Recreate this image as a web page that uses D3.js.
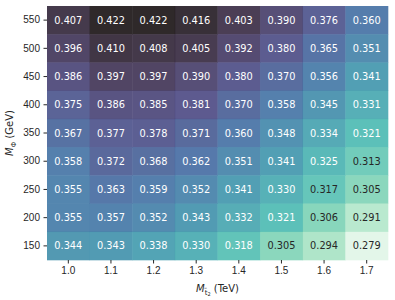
<!DOCTYPE html>
<html>
<head>
<meta charset="utf-8">
<script src="https://cdn.jsdelivr.net/npm/d3@7"></script>
<style>
body { margin: 0; background: #fff; }
svg { font-family: "DejaVu Sans", sans-serif; }
.tick text { font-size: 10px; fill: #262626; }
.tick line { stroke: #262626; }
</style>
</head>
<body>
<svg id="chart" width="395" height="300"></svg>
<script>
// column / row labels
var mt2 = ["1.0", "1.1", "1.2", "1.3", "1.4", "1.5", "1.6", "1.7"];
var mphi = ["550", "500", "450", "400", "350", "300", "250", "200", "150"];

// values, one row per M_phi (top to bottom)
var row550 = [0.407, 0.422, 0.422, 0.416, 0.403, 0.390, 0.376, 0.360];
var row500 = [0.396, 0.410, 0.408, 0.405, 0.392, 0.380, 0.365, 0.351];
var row450 = [0.386, 0.397, 0.397, 0.390, 0.380, 0.370, 0.356, 0.341];
var row400 = [0.375, 0.386, 0.385, 0.381, 0.370, 0.358, 0.345, 0.331];
var row350 = [0.367, 0.377, 0.378, 0.371, 0.360, 0.348, 0.334, 0.321];
var row300 = [0.358, 0.372, 0.368, 0.362, 0.351, 0.341, 0.325, 0.313];
var row250 = [0.355, 0.363, 0.359, 0.352, 0.341, 0.330, 0.317, 0.305];
var row200 = [0.355, 0.357, 0.352, 0.343, 0.332, 0.321, 0.306, 0.291];
var row150 = [0.344, 0.343, 0.338, 0.330, 0.318, 0.305, 0.294, 0.279];
var rows = [row550, row500, row450, row400, row350, row300, row250, row200, row150];

// mako colormap stops (approx)
var makoStops = [0, 0.143, 0.286, 0.429, 0.571, 0.714, 0.857, 1];
var makoColors = ["#0b0405", "#2e1e3b", "#413d7b", "#37659e", "#348fa7", "#40b7ad", "#8bdab2", "#def5e5"];
var mako = d3.scaleLinear().domain(makoStops).range(makoColors).interpolate(d3.interpolateRgb);

var plot = { x0: 47, x1: 388, y0: 6, y1: 260 };

var svg = d3.select("#chart");

var x = d3.scaleBand().domain(mt2).range([plot.x0, plot.x1]);
var y = d3.scaleBand().domain(mphi).range([plot.y0, plot.y1]);

var cells = [];
rows.forEach(function(r, i) {
    r.forEach(function(v, j) {
        cells.push({ row: mphi[i], col: mt2[j], value: v });
    });
});

var all = cells.map(function(d) { return d.value; });
// reversed: high values dark
var color = d3.scaleLinear().domain([d3.max(all), d3.min(all)]).range([0, 1]);

svg.append("g").selectAll("rect")
    .data(cells)
    .enter().append("rect")
    .attr("x", function(d) { return x(d.col); })
    .attr("y", function(d) { return y(d.row); })
    .attr("width", x.bandwidth() + 0.3)
    .attr("height", y.bandwidth() + 0.3)
    .attr("fill", function(d) { return mako(color(d.value)); })
    .attr("fill-opacity", 0.85);

svg.append("g").selectAll("text")
    .data(cells)
    .enter().append("text")
    .attr("x", function(d) { return x(d.col) + x.bandwidth() / 2; })
    .attr("y", function(d) { return y(d.row) + y.bandwidth() / 2; })
    .attr("text-anchor", "middle")
    .attr("dominant-baseline", "central")
    .attr("font-size", "9.8px")
    .attr("fill", function(d) { return d.value < 0.3175 ? "#262626" : "#ffffff"; })
    .text(function(d) { return d3.format(".3f")(d.value); });

var xAxis = d3.axisBottom(x).tickSize(3.5).tickPadding(3.5);
var yAxis = d3.axisLeft(y).tickSize(3.5).tickPadding(3.5);

svg.append("g")
    .attr("transform", "translate(0," + plot.y1 + ")")
    .call(xAxis)
    .call(function(g) { g.select(".domain").remove(); });

svg.append("g")
    .attr("transform", "translate(" + plot.x0 + ",0)")
    .call(yAxis)
    .call(function(g) { g.select(".domain").remove(); });

// x label: M_{t~2} (TeV)
var xl = svg.append("text")
    .attr("x", (plot.x0 + plot.x1) / 2)
    .attr("y", 292)
    .attr("text-anchor", "middle")
    .attr("font-size", "10px")
    .attr("fill", "#262626");
xl.append("tspan").attr("font-style", "italic").text("M");
xl.append("tspan").attr("font-size", "7px").attr("dy", 2.5).text("t\u0303");
xl.append("tspan").attr("font-size", "5px").attr("dy", 1.5).text("2");
xl.append("tspan").attr("dy", -4).text(" (TeV)");

// y label: M_Phi (GeV)
var yl = svg.append("text")
    .attr("transform", "translate(13," + ((plot.y0 + plot.y1) / 2) + ") rotate(-90)")
    .attr("text-anchor", "middle")
    .attr("font-size", "10px")
    .attr("fill", "#262626");
yl.append("tspan").attr("font-style", "italic").text("M");
yl.append("tspan").attr("font-size", "7px").attr("dy", 2.5).text("\u03a6");
yl.append("tspan").attr("dy", -2.5).text(" (GeV)");
</script>
</body>
</html>
